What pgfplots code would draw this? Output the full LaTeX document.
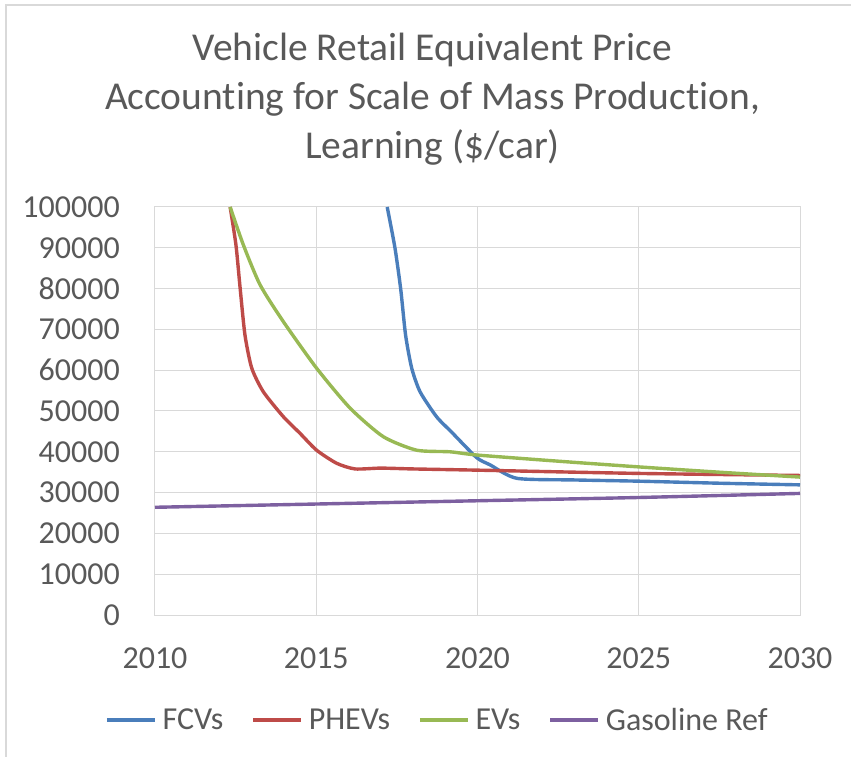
\documentclass[border=0pt]{standalone}
\usepackage{pgfplots}
\pgfplotsset{compat=1.18}
\usepackage{fontspec}
\setmainfont{Carlito}[Ligatures=NoCommon]
\definecolor{gridgray}{HTML}{D9D9D9}
\definecolor{txtgray}{HTML}{595959}
\definecolor{cblue}{HTML}{4A7EBB}
\definecolor{cred}{HTML}{BE4B48}
\definecolor{cgreen}{HTML}{98B954}
\definecolor{cpurple}{HTML}{7D60A0}
\begin{document}
\begin{tikzpicture}
\useasboundingbox (-155bp,-142bp) rectangle (696bp,615bp);
\draw[gridgray, line width=1.2bp] (-149bp,-150bp) -- (-149bp,610bp) -- (700bp,610bp);
\begin{axis}[
  at={(0,0)}, anchor=south west,
  scale only axis, width=645bp, height=408bp,
  xmin=2010, xmax=2030, ymin=0, ymax=100000,
  xtick={2010,2015,2020,2025,2030},
  ytick={0,10000,20000,30000,40000,50000,60000,70000,80000,90000,100000},
  grid=major,
  major grid style={color=gridgray, line width=1bp},
  axis line style={gridgray, line width=1bp},
  major tick length=0pt,
  scaled y ticks=false, scaled x ticks=false,
  /pgf/number format/.cd, fixed, 1000 sep={}, assume math mode=true,
  /pgfplots/.cd,
  ticklabel style={font=\fontsize{32bp}{38bp}\selectfont, text=txtgray},
  yticklabel style={anchor=east, inner sep=0pt, xshift=-35bp},
  xticklabel style={anchor=base, inner sep=0pt, yshift=-53bp},
  legend columns=4,
  legend style={draw=none, fill=none, inner sep=0pt,
    at={(-0.0775,-0.2574)}, anchor=west,
    font=\fontsize{32bp}{38bp}\selectfont, text=txtgray,
    nodes={inner sep=0pt},
    /tikz/every odd column/.append style={column sep=6bp},
    /tikz/every even column/.append style={column sep=28bp}},
  legend image code/.code={\draw[#1] (0bp,0bp) -- (48bp,0bp);},
]
\addplot[cblue, line width=3.4bp, smooth, tension=0.4] coordinates {
 (2017.20,100000) (2017.44,90000) (2017.62,79800) (2017.77,68600) (2017.96,60500)
 (2018.22,54700) (2018.73,48600) (2019.20,44800) (2019.97,38600) (2020.39,36800)
 (2021.22,33500) (2023,33100) (2025,32800) (2027.5,32300) (2030,31900)};
\addlegendentry{FCVs}
\addplot[cred, line width=3.4bp, smooth, tension=0.4] coordinates {
 (2012.33,100000) (2012.51,90700) (2012.64,80100) (2012.79,68600) (2013.00,60500)
 (2013.36,54700) (2013.98,48600) (2014.50,44500) (2015.01,40400) (2015.63,37200)
 (2016.20,35800) (2017,36000) (2018,35800) (2020,35500) (2025,34700) (2030,34200)};
\addlegendentry{PHEVs}
\addplot[cgreen, line width=3.4bp, smooth, tension=0.4] coordinates {
 (2012.33,100000) (2012.74,90700) (2013.26,80900) (2013.98,71900) (2015.01,60500)
 (2016.05,50700) (2017.08,43700) (2018.11,40400) (2019.15,40000) (2020,39200)
 (2022.5,37700) (2025,36300) (2027.5,35000) (2030,33800)};
\addlegendentry{EVs}
\addplot[cpurple, line width=3.4bp, smooth, tension=0.4] coordinates {
 (2010,26400) (2015,27200) (2020,28000) (2025,28800) (2030,29800)};
\addlegendentry{Gasoline Ref}
\end{axis}
\begin{scope}[every node/.style={text=txtgray, font=\fontsize{39.5bp}{47bp}\selectfont, anchor=base, inner sep=0pt}]
\node at (277.5bp,554bp) {Vehicle Retail Equivalent Price};
\node at (277.5bp,505bp) {Accounting for Scale of Mass Production,};
\node at (277.5bp,456bp) {Learning (\$/car)};
\end{scope}
\end{tikzpicture}
\end{document}
